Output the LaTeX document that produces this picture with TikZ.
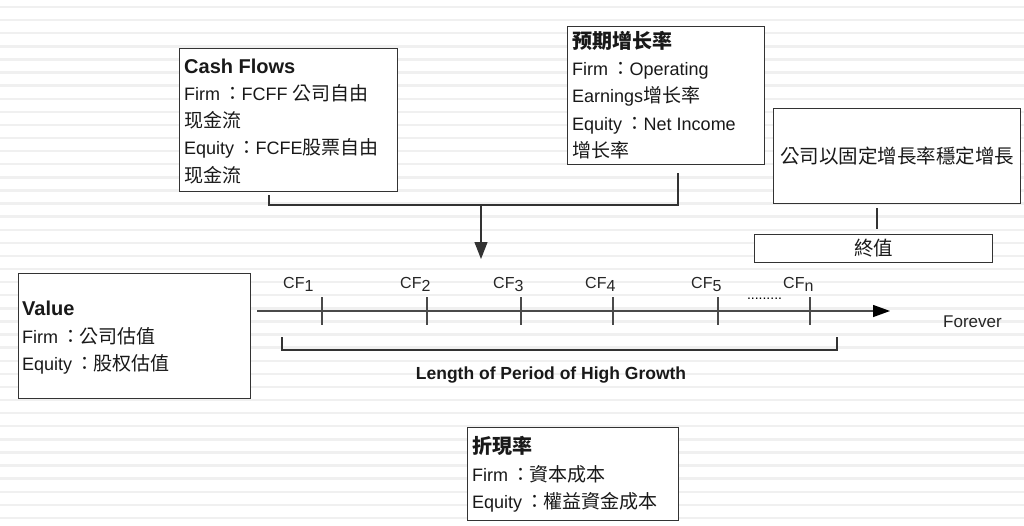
\documentclass[tikz,border=0pt]{standalone}
\usepackage{fontspec}
\setmainfont{Liberation Sans}
\newfontfamily\cjk{Noto Sans CJK TC}
\usetikzlibrary{arrows.meta}
\newcommand\cj[1]{{\cjk\fontsize{19}{27.3}\selectfont #1}}
\newcommand\cjbold[1]{{\cjk\bfseries\fontsize{20}{27.3}\selectfont #1}}
\newcommand\ttl[1]{{\bfseries\fontsize{20}{27.3}\selectfont #1}}
\newcommand\colo{\cj{\hspace{3.5pt}：\hspace{-1pt}}}
\definecolor{boxline}{HTML}{333333}
\definecolor{axisline}{HTML}{4A4A4A}
\definecolor{stripe}{HTML}{F0F0F0}
\tikzset{
  boxnode/.style={draw=boxline,line width=1.2pt,fill=white,inner sep=0pt,anchor=north west},
  boxtext/.style={anchor=base west,align=left,inner sep=0pt,font=\fontsize{18}{27.3}\selectfont,text=black!90},
  conn/.style={draw=boxline,line width=1.1pt},
  axis/.style={draw=axisline,line width=1.3pt},
  cflabel/.style={anchor=base west,inner sep=0pt,font=\fontsize{16}{18}\selectfont,text=black!85},
  bgstripe/.style={draw=stripe,line width=2.4pt}
}
\newcommand\sub[1]{\raisebox{-3pt}{#1}}
\begin{document}
\begin{tikzpicture}[x=1pt,y=-1pt]
\useasboundingbox (0,0) rectangle (1024,525);
\fill[white] (0,0) rectangle (1024,525);
\foreach \i in {0,...,39} \draw[bgstripe] (0,{7+13.1*\i}) -- (1024,{7+13.1*\i});

% boxes
\node[boxnode,minimum width=218,minimum height=143] (cf) at (179,48) {};
\node[boxnode,minimum width=197,minimum height=138] (gr) at (567,26) {};
\node[boxnode,minimum width=247,minimum height=95] (rb) at (773,108) {};
\node[boxnode,minimum width=238,minimum height=28] (tv) at (754,234) {};
\node[boxnode,minimum width=232,minimum height=125] (val) at (18,273) {};
\node[boxnode,minimum width=211,minimum height=93] (dr) at (467,427) {};

% box texts (anchored at the baseline of their last line)
\node[boxtext] (cft) at (184,182.2) {\ttl{Cash Flows}\\Firm\colo FCFF \cj{公司自由}\\\cj{现金流}\\Equity\colo FCFE\cj{股票自由}\\\cj{现金流}};
\node[boxtext] (grt) at (572,157.5) {\cjbold{预期增长率}\\Firm\colo Operating\\Earnings\cj{增长率}\\Equity\colo Net Income\\\cj{增长率}};
\node[inner sep=0pt,font=\fontsize{19.5}{22}\selectfont\cjk,text=black!90] (rbt) at (rb.center) {公司以固定增長率穩定增長};
\node[inner sep=0pt,font=\fontsize{19.5}{22}\selectfont\cjk,text=black!90] (tvt) at (tv.center) {終值};
\node[boxtext] (valt) at (22,370.5) {\ttl{Value}\\Firm\colo\cj{公司估值}\\Equity\colo\cj{股权估值}};
\node[boxtext] (drt) at (472,508.5) {\cjbold{折現率}\\Firm\colo\cj{資本成本}\\Equity\colo\cj{權益資金成本}};

% top bracket and arrow
\coordinate (b1) at (269,195);
\coordinate (b2) at (269,205);
\coordinate (b3) at (678,205);
\coordinate (b4) at (678,173);
\coordinate (bj) at (481,205);
\coordinate (tip) at (481,259);
\draw[conn] (b1) -- (b2) -- (b3) -- (b4);
\draw[conn,-{Triangle[length=17pt,width=13pt]}] (bj) -- (tip);

% stem to terminal value
\coordinate (s1) at (877,208);
\coordinate (s2) at (877,229);
\draw[conn] (s1) -- (s2);

% timeline
\coordinate (tl0) at (257,311);
\coordinate (tl1) at (890,311);
\draw[axis,-{Triangle[length=17pt,width=12pt,color=black]}] (tl0) -- (tl1);
\foreach \x in {322,427,521,613,718,810} \draw[axis,line width=1.1pt] (\x,297) -- (\x,325);

\node[cflabel] (cf1) at (283,288) {CF\sub{1}};
\node[cflabel] (cf2) at (400,288) {CF\sub{2}};
\node[cflabel] (cf3) at (493,288) {CF\sub{3}};
\node[cflabel] (cf4) at (585,288) {CF\sub{4}};
\node[cflabel] (cf5) at (691,288) {CF\sub{5}};
\node[cflabel] (cfn) at (783,288) {CF\sub{n}};
\node[anchor=base,inner sep=0pt,font=\fontsize{14}{16}\selectfont] (dots) at (764.5,299.5) {.........};
\node[anchor=base west,inner sep=0pt,font=\fontsize{17}{20}\selectfont,text=black!85] (fv) at (943,327) {Forever};

% lower bracket
\coordinate (l1) at (282,337);
\coordinate (l2) at (282,350);
\coordinate (l3) at (837,350);
\coordinate (l4) at (837,337);
\draw[conn] (l1) -- (l2) -- (l3) -- (l4);
\node[anchor=base,inner sep=0pt,font=\bfseries\fontsize{17.5}{20}\selectfont,text=black!90] (len) at (551,379) {Length of Period of High Growth};
\end{tikzpicture}
\end{document}
